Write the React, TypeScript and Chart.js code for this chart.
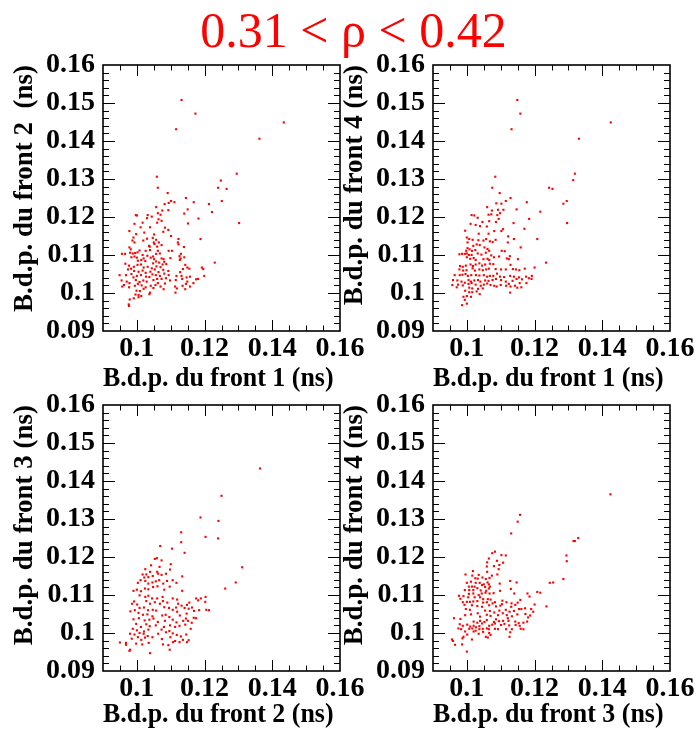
import React, { useEffect, useRef } from "react";
import { Chart, registerables } from "chart.js";

Chart.register(...registerables);

// ---------- axis / text data ----------
const MAIN_TITLE = "0.31 < \u03C1 < 0.42";
const AXIS_MIN = 0.09;
const AXIS_MAX = 0.16;
const X_TICKS = [0.1, 0.12, 0.14, 0.16];
const Y_TICKS = [0.09, 0.1, 0.11, 0.12, 0.13, 0.14, 0.15, 0.16];

// ---------- panel 1 : front 1 (x) vs front 2 (y) ----------
const f1_vs_f2_x = [
  0.1059,0.1062,0.1091,0.1145,0.1101,0.1094,0.1082,0.1111,0.1057,0.1168,
  0.1213,0.1240,0.1150,0.1222,0.1075,0.1093,0.0997,0.1000,0.1032,0.1044,
  0.1062,0.1070,0.1064,0.1073,0.1140,0.1182,0.1030,0.1017,0.0993,0.1011,
  0.1039,0.1060,0.1083,0.1093,0.1078,0.1151,0.0978,0.0998,0.1022,0.1051,
  0.1101,0.1123,0.0990,0.0987,0.0993,0.1019,0.1030,0.1047,0.1057,0.1050,
  0.1065,0.1052,0.1036,0.1060,0.1073,0.1121,0.1188,0.1123,0.1139,0.0978,
  0.0982,0.1008,0.1026,0.1038,0.1039,0.1062,0.1094,0.1104,0.0995,0.0956,
  0.0965,0.0980,0.0988,0.1002,0.1017,0.1031,0.1057,0.1048,0.1068,0.1130,
  0.0984,0.0993,0.1000,0.1020,0.1041,0.1051,0.1073,0.1079,0.1126,0.1129,
  0.1003,0.1013,0.1025,0.1048,0.1057,0.1066,0.1076,0.1081,0.1099,0.1127,
  0.1140,0.1230,0.0966,0.0977,0.0991,0.1002,0.1012,0.1020,0.1032,0.1044,
  0.1058,0.1070,0.1087,0.1143,0.0974,0.0983,0.0992,0.1005,0.1017,0.1026,
  0.1040,0.1053,0.1064,0.1078,0.1093,0.1128,0.1136,0.1149,0.1155,0.1192,
  0.1196,0.0949,0.0968,0.0984,0.0990,0.1000,0.1012,0.1027,0.1037,0.1046,
  0.1056,0.1068,0.1081,0.1094,0.1117,0.1132,0.1147,0.1157,0.1181,0.1199,
  0.0955,0.0970,0.0978,0.0997,0.1008,0.1019,0.1029,0.1049,0.1060,0.1073,
  0.1086,0.1098,0.1115,0.1134,0.1149,0.1167,0.1175,0.0962,0.0977,0.0994,
  0.1003,0.1014,0.1041,0.1055,0.1062,0.1070,0.1083,0.1113,0.1135,0.1145,
  0.1157,0.0957,0.1026,0.0999,0.1009,0.1020,0.1039,0.1049,0.1079,0.1118,
  0.1143,0.0996,0.1005,0.1037,0.1013,0.1005,0.0979,0.0991,0.0976,0.0977,
  0.1114,
  0.1132,0.1173,0.1116,0.1434,0.1362,0.1295,0.1248,0.1265,0.1251,0.1302,
];
const f1_vs_f2_y = [
  0.1306,0.1277,0.1263,0.1250,0.1242,0.1237,0.1234,0.1239,0.1226,0.1239,
  0.1234,0.1277,0.1220,0.1213,0.1217,0.1218,0.1205,0.1204,0.1205,0.1201,
  0.1210,0.1206,0.1194,0.1190,0.1209,0.1196,0.1197,0.1185,0.1182,0.1173,
  0.1173,0.1185,0.1172,0.1166,0.1161,0.1183,0.1163,0.1155,0.1159,0.1154,
  0.1150,0.1142,0.1146,0.1138,0.1133,0.1138,0.1143,0.1145,0.1140,0.1133,
  0.1133,0.1129,0.1124,0.1122,0.1126,0.1133,0.1142,0.1128,0.1121,0.1120,
  0.1115,0.1112,0.1111,0.1122,0.1113,0.1111,0.1111,0.1111,0.1105,0.1103,
  0.1103,0.1106,0.1104,0.1107,0.1100,0.1098,0.1103,0.1096,0.1104,0.1103,
  0.1094,0.1096,0.1093,0.1091,0.1093,0.1089,0.1091,0.1089,0.1097,0.1091,
  0.1085,0.1087,0.1084,0.1078,0.1083,0.1080,0.1075,0.1082,0.1092,0.1087,
  0.1094,0.1080,0.1077,0.1072,0.1069,0.1074,0.1075,0.1067,0.1069,0.1065,
  0.1070,0.1068,0.1076,0.1074,0.1062,0.1064,0.1058,0.1056,0.1059,0.1053,
  0.1056,0.1062,0.1055,0.1061,0.1058,0.1055,0.1063,0.1067,0.1064,0.1067,
  0.1063,0.1047,0.1047,0.1050,0.1041,0.1045,0.1047,0.1043,0.1042,0.1049,
  0.1047,0.1045,0.1051,0.1047,0.1045,0.1045,0.1041,0.1043,0.1037,0.1045,
  0.1033,0.1030,0.1026,0.1034,0.1029,0.1033,0.1030,0.1034,0.1037,0.1037,
  0.1039,0.1033,0.1034,0.1037,0.1030,0.1026,0.1036,0.1021,0.1015,0.1019,
  0.1024,0.1020,0.1019,0.1021,0.1026,0.1017,0.1025,0.1017,0.1019,0.1024,
  0.1017,0.1017,0.1015,0.1006,0.1005,0.1011,0.1001,0.1013,0.1010,0.1012,
  0.1010,0.0996,0.0995,0.0997,0.0992,0.0989,0.0983,0.0986,0.0970,0.0966,
  0.1001,
  0.1508,0.1472,0.1431,0.1449,0.1406,0.1314,0.1296,0.1274,0.1242,0.1184,
];

// ---------- panel 2 : front 1 (x) vs front 4 (y) ----------
const f1_vs_f4_x = [
  0.1084,0.1075,0.1097,0.1129,0.1115,0.1102,0.1087,0.1177,0.1060,0.1147,
  0.1108,0.1074,0.1092,0.1217,0.1014,0.1022,0.1032,0.1064,0.1072,0.1090,
  0.1098,0.1094,0.1086,0.1066,0.1046,0.1184,0.1011,0.1026,0.1039,0.1059,
  0.1107,0.1102,0.1081,0.1138,0.0995,0.1035,0.1064,0.1170,0.1000,0.1007,
  0.1017,0.1034,0.1049,0.1057,0.1068,0.1076,0.1085,0.1122,0.1139,0.1208,
  0.1121,0.1002,0.1029,0.1038,0.1019,0.1002,0.1008,0.0998,0.1015,0.1025,
  0.1052,0.1061,0.1066,0.1103,0.1112,0.1159,0.0978,0.0986,0.0994,0.1000,
  0.1006,0.1014,0.1032,0.1043,0.1056,0.1072,0.1127,0.1000,0.1010,0.1020,
  0.1026,0.1049,0.1061,0.1066,0.1080,0.1095,0.1118,0.1124,0.1151,0.1234,
  0.1011,0.1018,0.1026,0.1037,0.1045,0.1054,0.1068,0.1078,0.1129,0.0980,
  0.0988,0.0997,0.0978,0.0989,0.0999,0.1017,0.1024,0.1037,0.1047,0.1057,
  0.1065,0.1085,0.1101,0.1115,0.1136,0.1145,0.1155,0.1171,0.1200,0.0964,
  0.0979,0.0987,0.0996,0.1003,0.1013,0.1027,0.1037,0.1050,0.1060,0.1068,
  0.1078,0.1089,0.1098,0.1110,0.1128,0.1139,0.1154,0.1175,0.1192,0.1183,
  0.0959,0.0972,0.0984,0.0994,0.1005,0.1012,0.1022,0.1033,0.1040,0.1054,
  0.1064,0.1076,0.1086,0.1101,0.1115,0.1135,0.1147,0.1163,0.1191,0.0957,
  0.0974,0.0988,0.1005,0.1014,0.1026,0.1041,0.1050,0.1060,0.1070,0.1081,
  0.1100,0.1116,0.1124,0.1129,0.1142,0.1156,0.1176,0.0970,0.1007,0.1016,
  0.1033,0.1047,0.1088,0.1149,0.1161,0.0995,0.1007,0.1016,0.1029,0.1038,
  0.1128,0.0990,0.1000,0.1012,0.0994,0.1000,0.0986,
  0.1149,0.1158,0.1132,0.1425,0.1331,0.1319,0.1314,0.1243,0.1253,0.1285,0.1295,0.1296,
];
const f1_vs_f4_y = [
  0.1306,0.1277,0.1263,0.1250,0.1242,0.1235,0.1236,0.1239,0.1226,0.1220,
  0.1219,0.1217,0.1219,0.1214,0.1205,0.1204,0.1198,0.1206,0.1207,0.1205,
  0.1210,0.1195,0.1187,0.1189,0.1187,0.1195,0.1182,0.1179,0.1176,0.1175,
  0.1168,0.1163,0.1163,0.1184,0.1164,0.1156,0.1156,0.1169,0.1146,0.1142,
  0.1140,0.1139,0.1138,0.1142,0.1136,0.1134,0.1140,0.1149,0.1142,0.1142,
  0.1133,0.1133,0.1128,0.1126,0.1124,0.1118,0.1115,0.1111,0.1111,0.1113,
  0.1120,0.1116,0.1111,0.1111,0.1110,0.1120,0.1102,0.1103,0.1103,0.1104,
  0.1100,0.1100,0.1104,0.1101,0.1106,0.1099,0.1097,0.1094,0.1090,0.1092,
  0.1087,0.1089,0.1090,0.1087,0.1094,0.1096,0.1091,0.1089,0.1089,0.1080,
  0.1075,0.1071,0.1075,0.1078,0.1072,0.1075,0.1077,0.1076,0.1074,0.1071,
  0.1069,0.1072,0.1062,0.1059,0.1060,0.1065,0.1059,0.1062,0.1060,0.1062,
  0.1064,0.1063,0.1062,0.1062,0.1063,0.1062,0.1060,0.1064,0.1067,0.1047,
  0.1047,0.1048,0.1050,0.1045,0.1047,0.1047,0.1046,0.1047,0.1043,0.1045,
  0.1045,0.1051,0.1043,0.1042,0.1045,0.1043,0.1041,0.1043,0.1045,0.1039,
  0.1034,0.1033,0.1030,0.1027,0.1034,0.1030,0.1033,0.1034,0.1030,0.1033,
  0.1032,0.1034,0.1037,0.1034,0.1030,0.1032,0.1037,0.1036,0.1037,0.1021,
  0.1022,0.1020,0.1024,0.1026,0.1022,0.1019,0.1022,0.1025,0.1021,0.1019,
  0.1021,0.1019,0.1024,0.1017,0.1019,0.1026,0.1026,0.1015,0.1014,0.1012,
  0.1011,0.1012,0.1017,0.1014,0.1015,0.1006,0.1002,0.1002,0.1004,0.0997,
  0.1001,0.0990,0.0992,0.0990,0.0982,0.0972,0.0968,
  0.1508,0.1472,0.1431,0.1449,0.1406,0.1314,0.1297,0.1277,0.1274,0.1235,0.1242,0.1184,
];

// ---------- panel 3 : front 2 (x) vs front 3 (y) ----------
const f2_vs_f3_x = [
  0.1059,0.1053,0.1073,0.1042,0.1067,0.1100,0.1098,0.1025,0.1060,0.1039,
  0.1017,0.1028,0.1022,0.1034,0.1047,0.1063,0.1073,0.1086,0.1106,0.1134,
  0.1003,0.1011,0.1025,0.1034,0.1046,0.1056,0.1066,0.1078,0.1089,0.1024,
  0.1000,0.0990,0.1012,0.1034,0.1048,0.1061,0.1081,0.1097,0.1117,0.1134,
  0.1008,0.1025,0.1034,0.1045,0.1060,0.1076,0.1077,0.1090,0.1106,0.1119,
  0.1155,0.1175,0.1181,0.1189,0.1203,0.1202,0.1028,0.0992,0.0986,0.1001,
  0.1039,0.1053,0.1068,0.1122,0.1148,0.1163,0.0981,0.0994,0.1008,0.1021,
  0.1033,0.1047,0.1057,0.1081,0.1095,0.1106,0.1116,0.1132,0.1141,0.1153,
  0.1169,0.1184,0.1205,0.1213,0.1005,0.1018,0.1031,0.1046,0.1075,0.1085,
  0.1096,0.1119,0.1127,0.1147,0.1168,0.0990,0.1006,0.1023,0.1037,0.1049,
  0.1062,0.1083,0.1106,0.1117,0.1137,0.1145,0.1151,0.1162,0.1175,0.0998,
  0.1012,0.1028,0.1038,0.1056,0.1080,0.1098,0.1113,0.1126,0.1143,0.1159,
  0.0988,0.1000,0.1021,0.1034,0.1073,0.1096,0.0980,0.0993,0.1008,0.1020,
  0.1032,0.1063,0.1086,0.1106,0.1118,0.1130,0.1146,0.1153,0.0985,0.1003,
  0.1013,0.1024,0.1046,0.1074,0.1099,0.1113,0.1126,0.1136,0.1148,0.0950,
  0.0968,0.0968,0.0998,0.1016,0.1035,0.1077,0.1093,0.1107,0.0980,0.0978,
  0.1039,0.1097,
  0.1364,0.1250,0.1188,0.1241,0.1203,0.1240,0.1131,0.1131,0.1141,0.1311,0.1292,0.1261,0.1069,0.1104,
];
const f2_vs_f3_y = [
  0.1197,0.1195,0.1191,0.1178,0.1174,0.1181,0.1167,0.1168,0.1161,0.1161,
  0.1154,0.1154,0.1146,0.1147,0.1150,0.1156,0.1153,0.1156,0.1139,0.1149,
  0.1132,0.1139,0.1137,0.1130,0.1133,0.1136,0.1139,0.1130,0.1137,0.1117,
  0.1114,0.1111,0.1110,0.1115,0.1121,0.1123,0.1114,0.1122,0.1132,0.1111,
  0.1099,0.1095,0.1098,0.1091,0.1091,0.1095,0.1084,0.1080,0.1091,0.1088,
  0.1080,0.1091,0.1086,0.1091,0.1095,0.1082,0.1084,0.1083,0.1077,0.1075,
  0.1077,0.1081,0.1077,0.1077,0.1074,0.1067,0.1057,0.1060,0.1066,0.1067,
  0.1060,0.1061,0.1059,0.1068,0.1066,0.1061,0.1067,0.1072,0.1066,0.1064,
  0.1058,0.1060,0.1061,0.1060,0.1053,0.1048,0.1049,0.1044,0.1046,0.1048,
  0.1042,0.1056,0.1046,0.1051,0.1040,0.1036,0.1039,0.1033,0.1035,0.1038,
  0.1029,0.1032,0.1035,0.1028,0.1032,0.1038,0.1032,0.1027,0.1039,0.1024,
  0.1016,0.1023,0.1018,0.1020,0.1016,0.1020,0.1016,0.1019,0.1022,0.1011,
  0.1011,0.1007,0.1004,0.1009,0.1009,0.1005,0.0998,0.0996,0.1000,0.0998,
  0.0992,0.0998,0.1002,0.0999,0.0995,0.0991,0.0996,0.0981,0.0985,0.0989,
  0.0982,0.0988,0.0989,0.0984,0.0989,0.0979,0.0976,0.0982,0.0976,0.0975,
  0.0974,0.0969,0.0972,0.0970,0.0974,0.0970,0.0968,0.0976,0.0956,0.0953,
  0.0947,0.0956,
  0.1433,0.1361,0.1304,0.1295,0.1253,0.1249,0.1265,0.1239,0.1211,0.1173,0.1133,0.1117,0.1229,0.1222,
];

// ---------- panel 4 : front 3 (x) vs front 4 (y) ----------
const f3_vs_f4_x = [
  0.1083,0.1075,0.1102,0.1115,0.1065,0.1089,0.1096,0.1107,0.1060,0.1080,
  0.1094,0.1059,0.0996,0.1018,0.1016,0.1035,0.1060,0.1074,0.1090,0.1025,
  0.1032,0.1046,0.1056,0.1067,0.1012,0.1000,0.1026,0.1038,0.1061,0.1050,
  0.1097,0.1128,0.1147,0.1245,0.1255,0.1285,0.1006,0.1015,0.1023,0.1031,
  0.1045,0.1054,0.1065,0.1068,0.0994,0.1007,0.1019,0.1041,0.1057,0.1065,
  0.1079,0.1098,0.1130,0.1140,0.1179,0.1208,0.1217,0.0977,0.0990,0.1006,
  0.1019,0.1035,0.1044,0.1055,0.1067,0.0981,0.1004,0.1023,0.1039,0.1048,
  0.1062,0.1070,0.1185,0.1158,0.1105,0.0988,0.1000,0.1009,0.1019,0.1031,
  0.1048,0.1059,0.1076,0.1083,0.1104,0.1117,0.1132,0.1150,0.1143,0.1200,
  0.1235,0.0993,0.1015,0.1031,0.1045,0.1066,0.1086,0.1099,0.1131,0.1172,
  0.1190,0.0997,0.1009,0.1054,0.1068,0.1081,0.1096,0.1115,0.1126,0.1139,
  0.1161,0.1196,0.1154,0.0995,0.1012,0.1032,0.1039,0.1059,0.1070,0.1092,
  0.1106,0.1118,0.1133,0.1149,0.1173,0.1187,0.0981,0.0962,0.1020,0.1031,
  0.1039,0.1052,0.1059,0.1080,0.1086,0.1095,0.1107,0.1121,0.1123,0.1143,
  0.1153,0.1167,0.1181,0.1178,0.0979,0.0988,0.1001,0.1010,0.1020,0.1027,
  0.1037,0.1045,0.1066,0.1075,0.1083,0.1101,0.1111,0.1125,0.1144,0.1156,
  0.0975,0.0983,0.1007,0.1016,0.1026,0.1037,0.1047,0.1059,0.1065,0.1083,
  0.1092,0.1116,0.1133,0.1159,0.1167,0.0995,0.1001,0.1020,0.1048,0.1035,
  0.1066,0.0990,0.0987,0.1015,0.1056,0.1062,0.1126,0.0956,0.0959,0.0965,
  0.0986,0.1000,0.1070,0.1128,
  0.1424,0.1157,0.1150,0.1131,0.1329,0.1315,0.1319,0.1294,0.1295,
];
const f3_vs_f4_y = [
  0.1214,0.1210,0.1205,0.1204,0.1196,0.1190,0.1179,0.1185,0.1186,0.1176,
  0.1168,0.1175,0.1154,0.1163,0.1151,0.1153,0.1161,0.1151,0.1154,0.1144,
  0.1143,0.1146,0.1142,0.1145,0.1135,0.1132,0.1132,0.1132,0.1133,0.1128,
  0.1130,0.1137,0.1133,0.1132,0.1133,0.1142,0.1122,0.1122,0.1122,0.1118,
  0.1126,0.1121,0.1128,0.1122,0.1113,0.1113,0.1113,0.1112,0.1111,0.1117,
  0.1105,0.1111,0.1116,0.1104,0.1104,0.1108,0.1106,0.1098,0.1097,0.1103,
  0.1104,0.1100,0.1104,0.1106,0.1104,0.1090,0.1094,0.1094,0.1094,0.1089,
  0.1089,0.1088,0.1096,0.1087,0.1085,0.1081,0.1082,0.1082,0.1083,0.1084,
  0.1080,0.1081,0.1078,0.1081,0.1076,0.1081,0.1078,0.1080,0.1074,0.1075,
  0.1070,0.1074,0.1073,0.1071,0.1069,0.1073,0.1070,0.1072,0.1069,0.1065,
  0.1063,0.1063,0.1061,0.1059,0.1058,0.1054,0.1059,0.1061,0.1056,0.1058,
  0.1063,0.1056,0.1063,0.1047,0.1049,0.1052,0.1043,0.1048,0.1045,0.1047,
  0.1052,0.1047,0.1044,0.1049,0.1050,0.1046,0.1037,0.1039,0.1030,0.1027,
  0.1032,0.1029,0.1034,0.1029,0.1036,0.1031,0.1032,0.1039,0.1032,0.1030,
  0.1026,0.1027,0.1041,0.1030,0.1023,0.1019,0.1022,0.1017,0.1019,0.1015,
  0.1018,0.1025,0.1019,0.1022,0.1025,0.1021,0.1024,0.1020,0.1021,0.1019,
  0.1012,0.1010,0.1011,0.1012,0.1006,0.1010,0.1011,0.1012,0.1010,0.1011,
  0.1010,0.1010,0.1010,0.1011,0.1010,0.1004,0.0996,0.1004,0.1003,0.0998,
  0.1000,0.0990,0.0986,0.0983,0.0990,0.0988,0.0990,0.0983,0.0979,0.0969,
  0.0970,0.0951,0.0995,0.1002,
  0.1365,0.1311,0.1293,0.1262,0.1250,0.1242,0.1242,0.1204,0.1189,
];

// ---------- layout (page pixels) ----------
const FRAME_W = 237;
const FRAME_H = 266;
const Y_AXIS_W = 103;
const TOP_PAD = 15;
const RIGHT_PAD = 30;
const X_AXIS_H = 63;
const CANVAS_W = Y_AXIS_W + FRAME_W + RIGHT_PAD;
const CANVAS_H = TOP_PAD + FRAME_H + X_AXIS_H;

const SERIF = "'Liberation Serif', 'Times New Roman', Times, serif";

type PanelCfg = {
  xs: number[];
  ys: number[];
  xTitle: string;
  yTitle: string;
  frameLeft: number;
  frameTop: number;
  xTitlePad: number;
};

const PANELS: PanelCfg[] = [
  { xs: f1_vs_f2_x, ys: f1_vs_f2_y, xTitle: "B.d.p. du front 1 (ns) ", yTitle: "B.d.p. du front 2  (ns)", frameLeft: 103, frameTop: 65, xTitlePad: 1 },
  { xs: f1_vs_f4_x, ys: f1_vs_f4_y, xTitle: "B.d.p. du front 1 (ns) ", yTitle: "B.d.p. du front 4 (ns)", frameLeft: 433, frameTop: 65, xTitlePad: 1 },
  { xs: f2_vs_f3_x, ys: f2_vs_f3_y, xTitle: "B.d.p. du front 2 (ns) ", yTitle: "B.d.p. du front 3 (ns)", frameLeft: 103, frameTop: 405, xTitlePad: 5 },
  { xs: f3_vs_f4_x, ys: f3_vs_f4_y, xTitle: "B.d.p. du front 3 (ns) ", yTitle: "B.d.p. du front 4 (ns)", frameLeft: 433, frameTop: 405, xTitlePad: 5 },
];

const fmt = (v: number | string) => String(Math.round(Number(v) * 1000) / 1000);

// ROOT-like frame with inward ticks on all four sides
const framePlugin = {
  id: "rootFrame",
  afterDraw(chart: any) {
    const { ctx, chartArea, scales } = chart;
    const { left, right, top, bottom } = chartArea;
    const xs = scales.x;
    const ys = scales.y;
    ctx.save();
    ctx.strokeStyle = "#000";
    ctx.lineWidth = 1;
    ctx.beginPath();
    // x ticks every 0.005, major every 0.02 starting at 0.1
    for (let i = 1; i < 14; i++) {
      const v = AXIS_MIN + i * 0.005;
      const major = (i - 2) % 4 === 0;
      const len = major ? 11 : 5.5;
      const px = Math.round(xs.getPixelForValue(v)) + 0.5;
      ctx.moveTo(px, bottom);
      ctx.lineTo(px, bottom - len);
      ctx.moveTo(px, top);
      ctx.lineTo(px, top + len);
    }
    // y ticks every 0.002, major every 0.01
    for (let i = 1; i < 35; i++) {
      const v = AXIS_MIN + i * 0.002;
      const major = i % 5 === 0;
      const len = major ? 12 : 6;
      const py = Math.round(ys.getPixelForValue(v)) + 0.5;
      ctx.moveTo(left, py);
      ctx.lineTo(left + len, py);
      ctx.moveTo(right, py);
      ctx.lineTo(right - len, py);
    }
    ctx.stroke();
    ctx.lineWidth = 1.6;
    ctx.strokeRect(left, top, right - left, bottom - top);
    ctx.restore();
  },
};

function Panel({ cfg }: { cfg: PanelCfg }) {
  const ref = useRef<HTMLCanvasElement | null>(null);

  useEffect(() => {
    if (!ref.current) return;
    const tickFont = { family: SERIF, size: 28, weight: "bold" as const, lineHeight: 1 };
    const titleFont = { family: SERIF, size: 27, weight: "bold" as const, lineHeight: 1 };
    const points = cfg.xs.map((x, i) => ({ x, y: cfg.ys[i] }));
    const chart = new Chart(ref.current, {
      type: "scatter",
      data: {
        datasets: [
          {
            data: points,
            pointStyle: "rect",
            pointRadius: 1.5,
            pointHoverRadius: 1.5,
            backgroundColor: "#ff0000",
            borderColor: "#ff0000",
            borderWidth: 0,
          },
        ],
      },
      options: {
        animation: false,
        responsive: false,
        events: [],
        layout: { padding: { left: 0, top: TOP_PAD, right: RIGHT_PAD, bottom: 0 } },
        plugins: { legend: { display: false }, tooltip: { enabled: false }, title: { display: false } },
        scales: {
          x: {
            type: "linear",
            position: "bottom",
            min: AXIS_MIN,
            max: AXIS_MAX,
            grid: { display: false, drawTicks: false },
            border: { display: false },
            afterBuildTicks: (s: any) => {
              s.ticks = X_TICKS.map((v) => ({ value: v }));
            },
            afterFit: (s: any) => {
              s.height = X_AXIS_H;
              s.paddingLeft = 0;
              s.paddingRight = 0;
            },
            ticks: {
              font: tickFont,
              color: "#000",
              padding: 4,
              autoSkip: false,
              maxRotation: 0,
              minRotation: 0,
              callback: (v: any) => fmt(v),
            },
            title: {
              display: true,
              text: cfg.xTitle,
              align: "end",
              color: "#000",
              font: titleFont,
              padding: { top: 0, bottom: cfg.xTitlePad },
            },
          },
          y: {
            type: "linear",
            position: "left",
            min: AXIS_MIN,
            max: AXIS_MAX,
            grid: { display: false, drawTicks: false },
            border: { display: false },
            afterBuildTicks: (s: any) => {
              s.ticks = Y_TICKS.map((v) => ({ value: v }));
            },
            afterFit: (s: any) => {
              s.width = Y_AXIS_W;
              s.paddingTop = 0;
              s.paddingBottom = 0;
            },
            ticks: {
              font: tickFont,
              color: "#000",
              padding: 8,
              autoSkip: false,
              callback: (v: any) => fmt(v),
            },
            title: {
              display: true,
              text: cfg.yTitle,
              align: "end",
              color: "#000",
              font: titleFont,
              padding: { top: 12, bottom: 0 },
            },
          },
        },
      },
      plugins: [framePlugin],
    } as any);
    return () => chart.destroy();
  }, [cfg]);

  return (
    <canvas
      ref={ref}
      width={CANVAS_W}
      height={CANVAS_H}
      style={{
        position: "absolute",
        left: cfg.frameLeft - Y_AXIS_W,
        top: cfg.frameTop - TOP_PAD,
        width: CANVAS_W,
        height: CANVAS_H,
      }}
    />
  );
}

export default function App() {
  return (
    <div
      style={{
        position: "absolute",
        left: 0,
        top: 0,
        width: 697,
        height: 734,
        overflow: "hidden",
        background: "#fff",
      }}
    >
      <div
        style={{
          position: "absolute",
          left: 5,
          top: 5,
          width: 697,
          textAlign: "center",
          fontFamily: SERIF,
          fontSize: 50,
          lineHeight: "50px",
          color: "#ff0000",
          whiteSpace: "nowrap",
        }}
      >
        {MAIN_TITLE}
      </div>
      {PANELS.map((p, i) => (
        <Panel key={i} cfg={p} />
      ))}
    </div>
  );
}
